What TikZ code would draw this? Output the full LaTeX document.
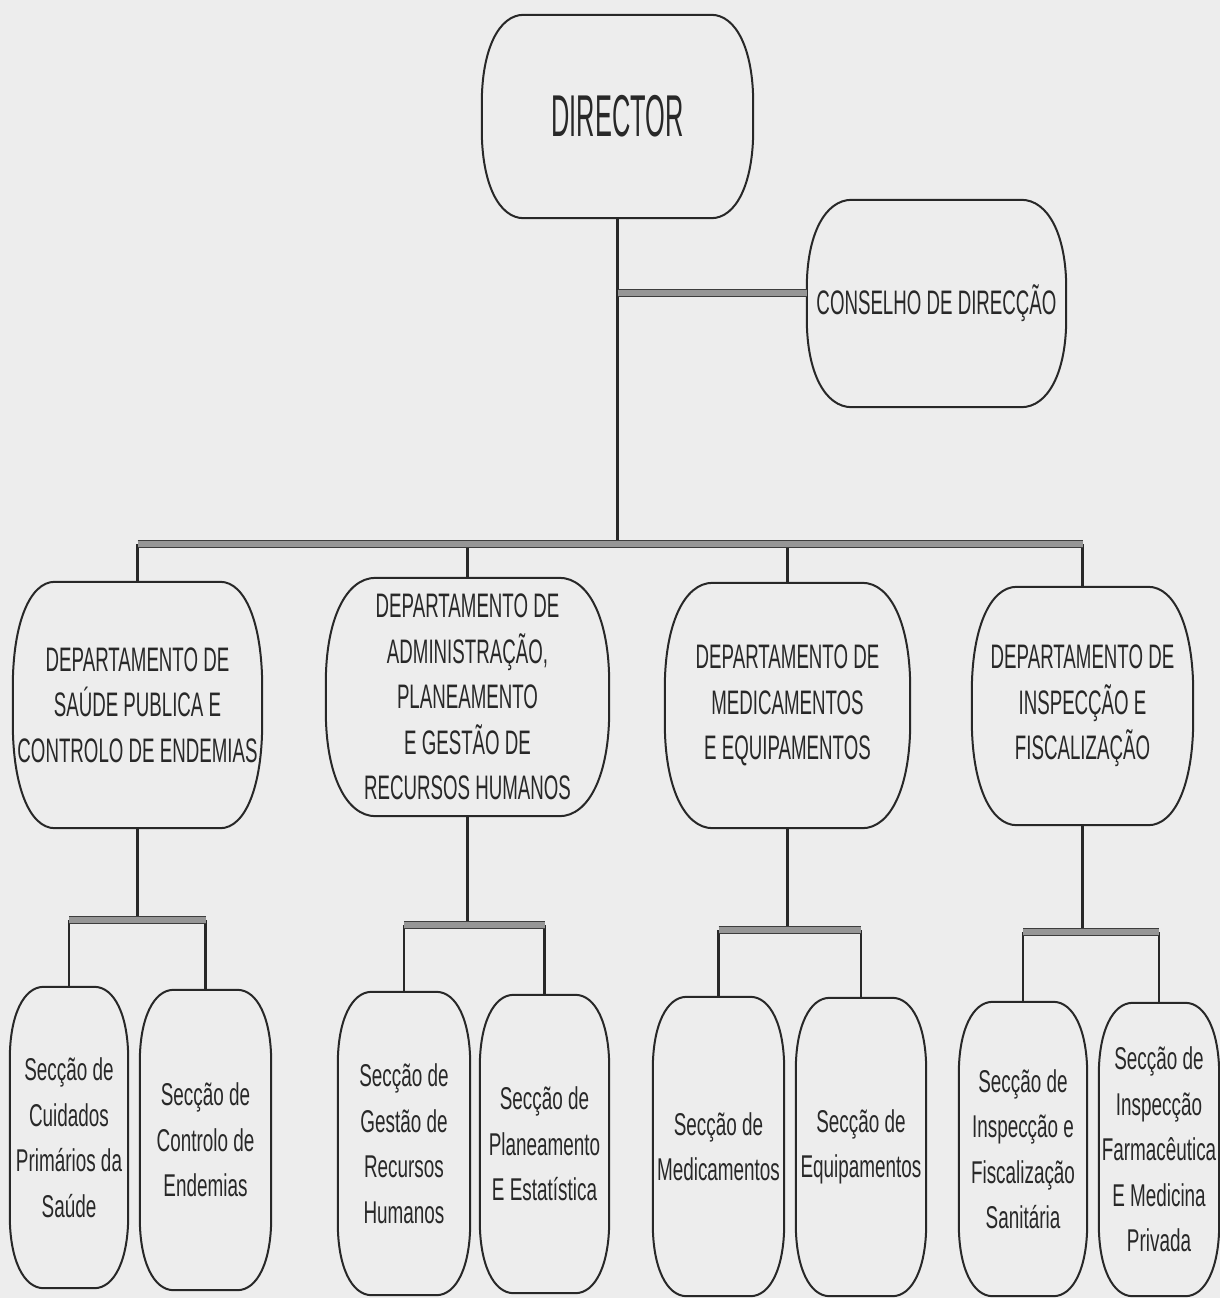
\documentclass[tikz,border=0pt]{standalone}
\usepackage{fontspec}
\setmainfont{Liberation Sans}
\newfontfamily\dirfont[FakeStretch=0.43]{Liberation Sans}
\newfontfamily\deptfont[FakeStretch=0.55]{Liberation Sans}
\newfontfamily\secfont[FakeStretch=0.6]{Liberation Sans}
\usetikzlibrary{calc}

\definecolor{paper}{RGB}{237,237,237}
\definecolor{ink}{RGB}{40,40,40}
\definecolor{barfill}{RGB}{150,150,150}

\tikzset{
  boxnode/.style={shape=rectangle, inner sep=0pt, align=center, text=ink},
  dirbox/.style={boxnode, font=\dirfont\fontsize{59}{60}\selectfont},
  deptbox/.style={boxnode, font=\deptfont\fontsize{34}{45.5}\selectfont},
  secbox/.style={boxnode, font=\secfont\fontsize{31.5}{45.5}\selectfont},
  outline/.style={draw=ink, line width=2pt, line join=round},
  link/.style={draw=ink, line width=2.2pt},
  bar/.style={draw=ink!90, line width=1.1pt, double=barfill, double distance=6pt},
}

% rounded box outline with elliptical corners: node name, x radius, y radius
\newcommand\pillbox[3]{%
  \draw[outline]
    ($(#1.north west)+(#2pt,0)$) -- ($(#1.north east)+(-#2pt,0)$)
    .. controls ($(#1.north east)+(-0.4*#2pt,0)$) and ($(#1.north east)+(0,-0.4*#3pt)$) .. ($(#1.north east)+(0,-#3pt)$)
    -- ($(#1.south east)+(0,#3pt)$)
    .. controls ($(#1.south east)+(0,0.4*#3pt)$) and ($(#1.south east)+(-0.4*#2pt,0)$) .. ($(#1.south east)+(-#2pt,0)$)
    -- ($(#1.south west)+(#2pt,0)$)
    .. controls ($(#1.south west)+(0.4*#2pt,0)$) and ($(#1.south west)+(0,0.4*#3pt)$) .. ($(#1.south west)+(0,#3pt)$)
    -- ($(#1.north west)+(0,-#3pt)$)
    .. controls ($(#1.north west)+(0,-0.4*#3pt)$) and ($(#1.north west)+(0.4*#2pt,0)$) .. cycle;
}

\begin{document}
\begin{tikzpicture}[x=1pt,y=-1pt]
  \fill[paper] (0,0) rectangle (1220,1298);
  \useasboundingbox (0,0) rectangle (1220,1298);

  % top level
  \node[dirbox, minimum width=271pt, minimum height=203pt] (DIR) at (617.5,116.5) {DIRECTOR};
  \node[deptbox, minimum width=259pt, minimum height=207pt] (CON) at (936.5,303.5) {CONSELHO DE DIRECÇÃO};

  % departments
  \node[deptbox, minimum width=249pt, minimum height=246pt] (D1) at (137.5,705)
    {DEPARTAMENTO DE\\SAÚDE PUBLICA E\\CONTROLO DE ENDEMIAS};
  \node[deptbox, minimum width=283pt, minimum height=238pt] (D2) at (467.5,697)
    {DEPARTAMENTO DE\\ADMINISTRAÇÃO,\\PLANEAMENTO\\E GESTÃO DE\\RECURSOS HUMANOS};
  \node[deptbox, minimum width=245pt, minimum height=245pt] (D3) at (787.5,705.5)
    {DEPARTAMENTO DE\\MEDICAMENTOS\\E EQUIPAMENTOS};
  \node[deptbox, minimum width=221pt, minimum height=238pt] (D4) at (1082.5,706)
    {DEPARTAMENTO DE\\INSPECÇÃO E\\FISCALIZAÇÃO};

  % sections
  \node[secbox, minimum width=118pt, minimum height=301pt] (S1) at (69,1137.5)
    {Secção de\\Cuidados\\Primários da\\Saúde};
  \node[secbox, minimum width=131pt, minimum height=300pt] (S2) at (205.5,1140)
    {Secção de\\Controlo de\\Endemias};
  \node[secbox, minimum width=132pt, minimum height=303pt] (S3) at (404,1143.5)
    {Secção de\\Gestão de\\Recursos\\Humanos};
  \node[secbox, minimum width=129pt, minimum height=298pt] (S4) at (544.5,1144)
    {Secção de\\Planeamento\\E Estatística};
  \node[secbox, minimum width=131pt, minimum height=299pt] (S5) at (718.5,1146.5)
    {Secção de\\Medicamentos};
  \node[secbox, minimum width=130pt, minimum height=298pt] (S6) at (861,1147)
    {Secção de\\Equipamentos};
  \node[secbox, minimum width=128pt, minimum height=294pt] (S7) at (1023,1149)
    {Secção de\\Inspecção e\\Fiscalização\\Sanitária};
  \node[secbox, minimum width=120pt, minimum height=293pt] (S8) at (1159,1149.5)
    {Secção de\\Inspecção\\Farmacêutica\\E Medicina\\Privada};

  % outlines
  \pillbox{DIR}{42}{88}
  \pillbox{CON}{45}{88}
  \pillbox{D1}{42}{105}
  \pillbox{D2}{50}{105}
  \pillbox{D3}{48}{105}
  \pillbox{D4}{45}{105}
  \foreach \s in {S1,S2,S3,S4,S5,S6,S7,S8}{\pillbox{\s}{34}{72}}

  % bus levels
  \coordinate (bus) at (0,544);
  \coordinate (cj)  at (617.5,293);
  \coordinate (sb1) at (0,920);
  \coordinate (sb2) at (0,925);
  \coordinate (sb3) at (0,930);
  \coordinate (sb4) at (0,932);

  % vertical connectors
  \draw[link] (DIR.south) -- (DIR.south |- bus);
  \foreach \d in {D1,D2,D3,D4}{\draw[link] (\d.north |- bus) -- (\d.north);}
  \draw[link] (D1.south) -- (D1.south |- sb1);
  \draw[link] (D2.south) -- (D2.south |- sb2);
  \draw[link] (D3.south) -- (D3.south |- sb3);
  \draw[link] (D4.south) -- (D4.south |- sb4);
  \draw[link] (S1.north |- sb1) -- (S1.north);
  \draw[link] (S2.north |- sb1) -- (S2.north);
  \draw[link] (S3.north |- sb2) -- (S3.north);
  \draw[link] (S4.north |- sb2) -- (S4.north);
  \draw[link] (S5.north |- sb3) -- (S5.north);
  \draw[link] (S6.north |- sb3) -- (S6.north);
  \draw[link] (S7.north |- sb4) -- (S7.north);
  \draw[link] (S8.north |- sb4) -- (S8.north);

  % horizontal bars
  \draw[bar] (cj) -- (cj -| CON.west);
  \draw[bar] (D1.north |- bus) -- (D4.north |- bus);
  \draw[bar] (S1.north |- sb1) -- (S2.north |- sb1);
  \draw[bar] (S3.north |- sb2) -- (S4.north |- sb2);
  \draw[bar] (S5.north |- sb3) -- (S6.north |- sb3);
  \draw[bar] (S7.north |- sb4) -- (S8.north |- sb4);
\end{tikzpicture}
\end{document}
